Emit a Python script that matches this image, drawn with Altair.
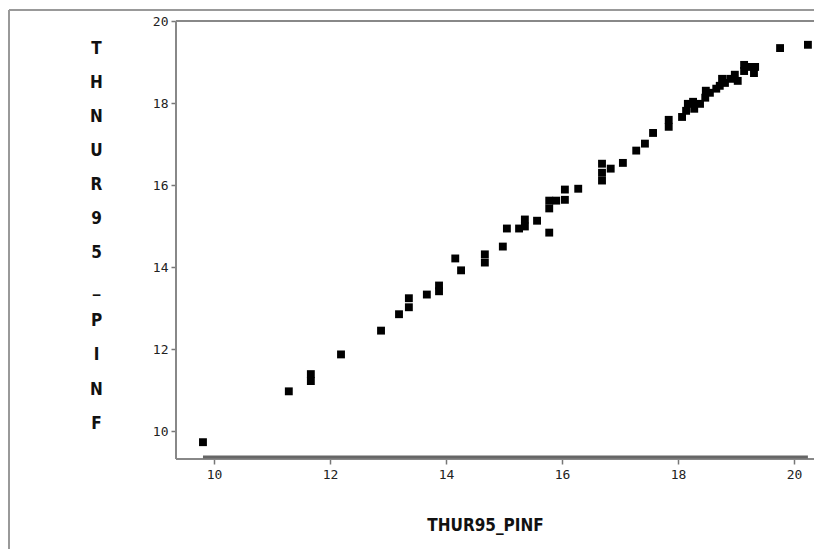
import altair as alt
import pandas as pd

# THUR95_PINF (x) vs THNUR95_PINF (y)
thur95_pinf = [9.81, 11.29, 11.67, 11.67, 12.19, 12.88, 13.19, 13.36, 13.36, 13.67,
               13.88, 13.88, 14.16, 14.26, 14.67, 14.67, 14.98, 15.05, 15.26, 15.36,
               15.36, 15.57, 15.78, 15.78, 15.78, 15.90, 16.05, 16.05, 16.28, 16.69,
               16.69, 16.69, 16.84, 17.05, 17.28, 17.43, 17.57, 17.84, 17.84, 18.07,
               18.14, 18.17, 18.28, 18.38, 18.26, 18.47, 18.55, 18.66, 18.48, 18.72,
               18.81, 18.90, 18.98, 18.76, 19.03, 19.14, 19.24, 19.33, 19.14, 19.31,
               19.76, 20.24]
thnur95_pinf = [9.73, 10.97, 11.39, 11.22, 11.87, 12.45, 12.85, 13.24, 13.02, 13.33,
                13.55, 13.41, 14.21, 13.92, 14.31, 14.11, 14.50, 14.94, 14.94, 15.16,
                14.99, 15.13, 14.84, 15.43, 15.62, 15.62, 15.89, 15.64, 15.91, 16.52,
                16.30, 16.11, 16.40, 16.54, 16.84, 17.01, 17.27, 17.59, 17.42, 17.66,
                17.81, 17.98, 17.86, 17.98, 18.03, 18.13, 18.25, 18.35, 18.30, 18.42,
                18.49, 18.59, 18.69, 18.59, 18.54, 18.78, 18.88, 18.88, 18.93, 18.73,
                19.34, 19.42]

x_ticks = [10, 12, 14, 16, 18, 20]
y_ticks = [10, 12, 14, 16, 18, 20]
x_title = "THUR95_PINF"
y_title_letters = ["T", "H", "N", "U", "R", "9", "5", "_", "P", "I", "N", "F"]

df = pd.DataFrame({"x": thur95_pinf, "y": thnur95_pinf})

W, H = 638, 438
xscale = alt.Scale(domain=[9.345, 20.345], nice=False, zero=False)
yscale = alt.Scale(domain=[9.32, 20.0], nice=False, zero=False)

tick_font = "DejaVu Sans Mono"
title_font = "DejaVu Sans Condensed, Liberation Sans, sans-serif"

points = alt.Chart(df).mark_point(
    shape="square", filled=True, size=62, color="black", opacity=1, strokeWidth=0
).encode(
    x=alt.X("x:Q", scale=xscale,
            axis=alt.Axis(values=x_ticks, format="d", title=x_title, grid=False,
                          domain=False, tickSize=5, tickColor="#777", tickWidth=1.5,
                          labelFont=tick_font, labelFontSize=13, labelColor="#222",
                          labelPadding=4,
                          titleFont=title_font, titleFontSize=17,
                          titleFontWeight="bold", titleColor="#111",
                          titleX=309, titleY=66, titleBaseline="middle",
                          titleAlign="center")),
    y=alt.Y("y:Q", scale=yscale,
            axis=alt.Axis(values=y_ticks, format="d", title=y_title_letters, grid=False,
                          domain=False, tickSize=5, tickColor="#777", tickWidth=1.5,
                          labelFont=tick_font, labelFontSize=13, labelColor="#222",
                          labelPadding=3,
                          titleFont=title_font, titleFontSize=17, titleFontWeight="bold",
                          titleColor="#111", titleAngle=0, titleAlign="center",
                          titleBaseline="top", titleLineHeight=34.1,
                          titleX=-80, titleY=19)),
)

# heavy x axis line spanning the data range
axis_line = alt.Chart(df).mark_rule(color="#666", strokeWidth=3).encode(
    x="min(x):Q", x2="max(x):Q", y=alt.value(H - 2)
)

# plot frame (top, left, bottom; runs off the right edge as in the reference)
def hline(yv, color, x0, x1):
    return alt.Chart(df).mark_rule(color=color, strokeWidth=2).encode(
        x=alt.value(x0), x2=alt.value(x1), y=alt.value(yv))

def vline(xv, color, y0, y1):
    return alt.Chart(df).mark_rule(color=color, strokeWidth=2).encode(
        x=alt.value(xv), y=alt.value(y0), y2=alt.value(y1))

frame = [
    hline(0, "#888", 0, W + 20),
    hline(H, "#888", 0, W + 20),
    vline(0, "#888", 0, H),
    # outer border
    hline(-11, "#999", -167, W + 20),
    vline(-167, "#999", -11, H + 200),
]

chart = alt.layer(*frame, points, axis_line).properties(
    width=W, height=H,
    autosize=alt.AutoSizeParams(type="none"),
    padding={"left": 168, "top": 13, "right": 0, "bottom": 90},
).configure_view(
    strokeWidth=0
)

chart.save("out.html", embed_options={"renderer": "svg", "actions": False})
